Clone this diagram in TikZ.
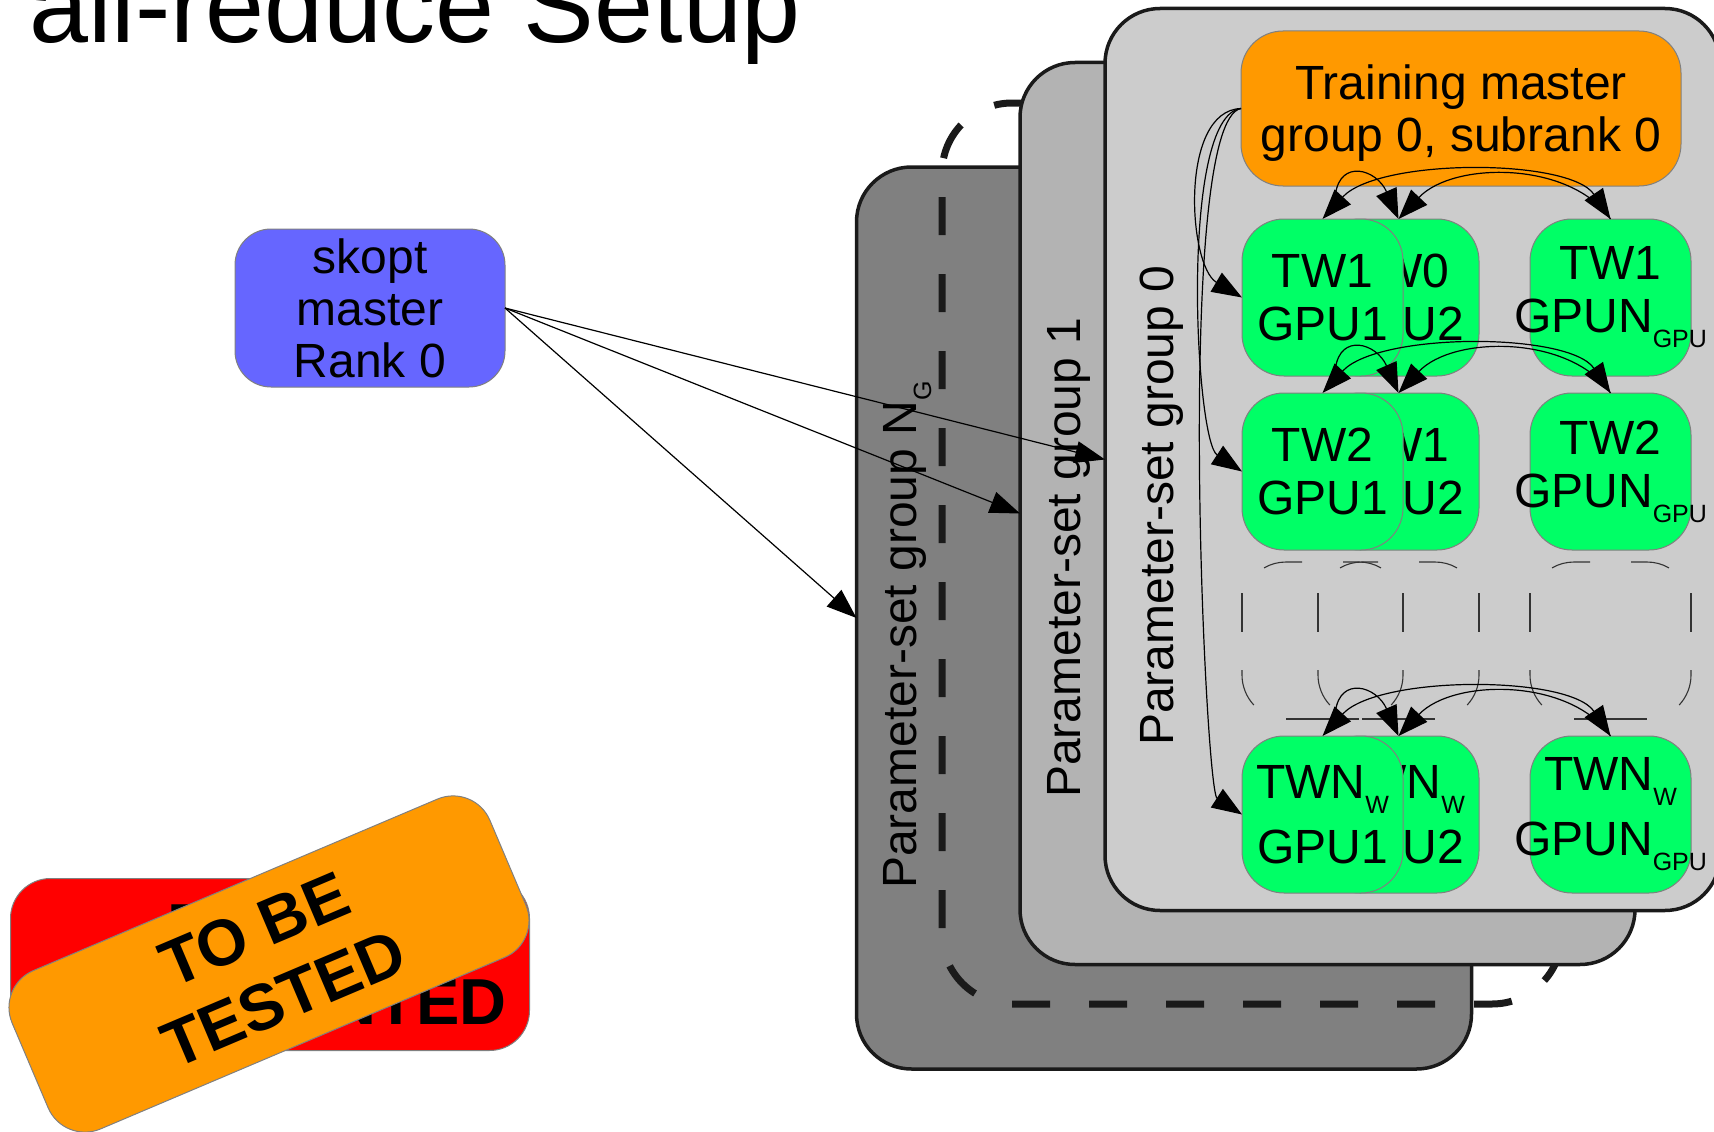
\documentclass[tikz,border=0pt]{standalone}
\usepackage{fontspec}
\setmainfont{Liberation Sans}
\usetikzlibrary{arrows.meta,calc}

\definecolor{groupzero}{RGB}{204,204,204}
\definecolor{groupone}{RGB}{179,179,179}
\definecolor{groupng}{RGB}{128,128,128}
\definecolor{workergreen}{RGB}{0,255,102}
\definecolor{masterorange}{RGB}{255,153,0}
\definecolor{skoptblue}{RGB}{102,102,255}
\definecolor{edgegray}{RGB}{128,128,128}
\definecolor{framegray}{RGB}{26,26,26}

% lowered small index, as in N_G or GPUN_GPU
\newcommand\lowsub[1]{\raisebox{-15pt}{\fontsize{25}{25}\selectfont #1}}

% dashed outline of an empty worker slot (the "..." row)
\newcommand\slotoutline[1]{%
  \draw[slotline] ([shift={(22,5.9)}]#1.north west) arc[start angle=240,end angle=270,radius=44] -- ++(16,0);
  \draw[slotline] ([shift={(-60,0)}]#1.north east) -- ++(16,0) arc[start angle=270,end angle=300,radius=44];
  \draw[slotline] ([shift={(0,31)}]#1.north west) -- ++(0,39);
  \draw[slotline] ([shift={(0,108)}]#1.north west) -- ([shift={(0,-44)}]#1.south west) arc[start angle=180,end angle=137,radius=44];
  \draw[slotline] ([shift={(0,31)}]#1.north east) -- ++(0,39);
  \draw[slotline] ([shift={(0,108)}]#1.north east) -- ([shift={(0,-44)}]#1.south east) arc[start angle=0,end angle=43,radius=44];
  \draw[slotline] ([shift={(44,0)}]#1.south west) -- ([shift={(-44,0)}]#1.south east);
}

\begin{document}
\begin{tikzpicture}[x=1pt,y=-1pt,
  cluster/.style={draw=framegray, line width=3.5pt, rounded corners=55,
    minimum width=615, minimum height=902, inner sep=0, outer sep=0},
  grouplabel/.style={rotate=90, anchor=base west, inner sep=0,
    font=\fontsize{48}{53}\selectfont},
  box/.style={draw=edgegray, line width=1pt, rounded corners=42, inner sep=0,
    outer sep=0, align=center, font=\fontsize{48}{52}\selectfont},
  worker/.style={box, fill=workergreen, minimum width=161, minimum height=157,
    font=\fontsize{48}{53}\selectfont},
  slot/.style={minimum width=161, minimum height=157, inner sep=0, outer sep=0},
  slotline/.style={line width=1.1pt, black!80},
  stamp/.style={draw=edgegray, line width=1pt, rounded corners=40,
    minimum width=519, minimum height=172, inner sep=0, align=center,
    font=\bfseries\fontsize{65}{75}\selectfont},
  bigdash/.style={draw=framegray, line width=7pt, dash pattern=on 38pt off 39pt},
  tip/.tip={Triangle[length=30pt,width=22pt]},
  flow/.style={line width=1.2pt, -tip},
  bothflow/.style={line width=1.2pt, tip-tip},
  backflow/.style={line width=1.2pt, tip-},
]
\clip (0,0) rectangle (1714,1132);

% heading
\node[anchor=base west, inner sep=0, font=\fontsize{106}{127}\selectfont] (title)
  at (29,43) {all-reduce Setup};

% status stamps
\node[stamp, fill=red] (redstamp) at (270,964.5) {BEING\\IMPLEMENTED};
\node[stamp, fill=masterorange, rotate=23] (orangestamp) at (269,964) {TO BE\\TESTED};

% optimiser master
\node[box, fill=skoptblue, minimum width=270, minimum height=158, rounded corners=36]
  (skopt) at (370,308) {skopt\\master\\Rank 0};

% parameter-set groups, back to front
\node[cluster, fill=groupng] (ng) at (1164,618) {};
\node[grouplabel] (ngl) at (916,889) {Parameter-set group N\lowsub{G}};
\draw[bigdash, rounded corners=70] (1032,103) -- (942,103) -- (942,1004)
  -- (1562,1004) -- (1562,103) -- (1300,103);
\node[cluster, fill=groupone] (g1) at (1327.5,513.5) {};
\node[grouplabel] (g1l) at (1080,798) {Parameter-set group 1};
\node[cluster, fill=groupzero] (g0) at (1412.5,459.5) {};
\node[grouplabel] (g0l) at (1173,746) {Parameter-set group 0};

% training master of group 0
\node[box, fill=masterorange, minimum width=440, minimum height=155, text depth=0pt]
  (master) at (1461,108.5) {Training master\\group 0, subrank 0};

% worker grid
\node[worker] (r1b) at (1398.5,297.5) {TW0\\GPU2};
\node[worker] (r1a) at (1322.5,297.5) {TW1\\GPU1};
\node[worker] (r1c) at (1610.5,297.5) {TW1\\\makebox[0pt]{GPUN\lowsub{GPU}}};

\node[worker] (r2b) at (1398.5,471.5) {TW1\\GPU2};
\node[worker] (r2a) at (1322.5,471.5) {TW2\\GPU1};
\node[worker] (r2c) at (1610.5,471.5) {TW2\\\makebox[0pt]{GPUN\lowsub{GPU}}};

\node[slot] (r3b) at (1398.5,640.5) {};
\node[slot] (r3a) at (1322.5,640.5) {};
\node[slot] (r3c) at (1610.5,640.5) {};
\slotoutline{r3b}
\slotoutline{r3a}
\slotoutline{r3c}

\node[worker] (r4b) at (1398.5,814.5) {TWN\lowsub{W}\\[12pt]GPU2};
\node[worker] (r4a) at (1322.5,814.5) {TWN\lowsub{W}\\[12pt]GPU1};
\node[worker] (r4c) at (1610.5,814.5) {TWN\lowsub{W}\\[12pt]\makebox[0pt]{GPUN\lowsub{GPU}}};

% master to the first worker of each row
\draw[flow] (master.west) .. controls +(-62,2) and +(-54,-32) .. (r1a.west);
\draw[flow] (master.west) .. controls +(-62,7) and +(-47,-31) .. (r2a.west);
\draw[flow] (master.west) .. controls +(-67,12) and +(-37,-24) .. (r4a.west);

% exchange between the workers of a row
\draw[flow] ([shift={(13,-25)}]r1a.north) .. controls +(5,-35) and +(-22,-50) .. (r1b.north);
\draw[bothflow] (r1a.north) .. controls +(56,-61) and +(-41,-61) .. (r1c.north);
\draw[backflow] (r1b.north) .. controls +(55,-58) and +(-40,-58) .. (r1c.north);

\draw[flow] ([shift={(13,-25)}]r2a.north) .. controls +(5,-35) and +(-22,-50) .. (r2b.north);
\draw[bothflow] (r2a.north) .. controls +(56,-61) and +(-41,-61) .. (r2c.north);
\draw[backflow] (r2b.north) .. controls +(55,-58) and +(-40,-58) .. (r2c.north);

\draw[flow] ([shift={(13,-25)}]r4a.north) .. controls +(5,-35) and +(-22,-50) .. (r4b.north);
\draw[bothflow] (r4a.north) .. controls +(56,-61) and +(-41,-61) .. (r4c.north);
\draw[backflow] (r4b.north) .. controls +(55,-58) and +(-40,-58) .. (r4c.north);

% optimiser to every parameter-set group
\draw[flow] (skopt.east) -- (ng.west);
\draw[flow] (skopt.east) -- (g1.west);
\draw[flow] (skopt.east) -- (g0.west);
\end{tikzpicture}
\end{document}
